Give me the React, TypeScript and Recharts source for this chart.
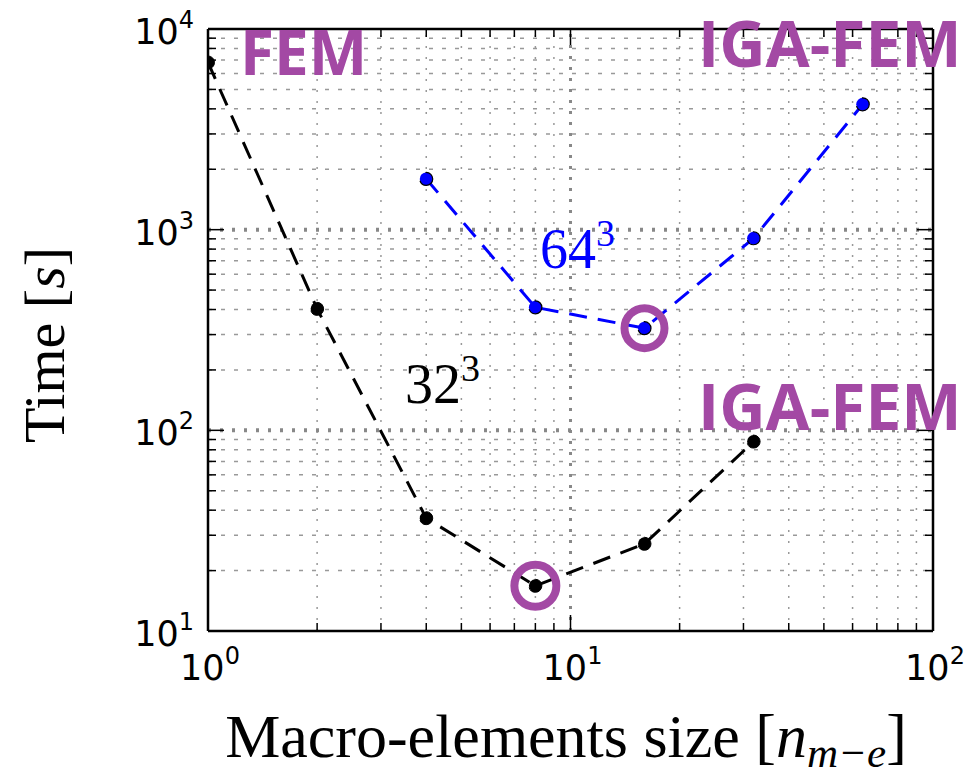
import React from 'react';
import { LineChart, Line, XAxis, YAxis, ReferenceLine, ReferenceDot } from 'recharts';

const sizes32 = [1, 2, 4, 8, 16, 32];
const time32 = [6810, 403, 36.5, 16.8, 27.2, 87.9];
const sizes64 = [4, 8, 16, 32, 64];
const time64 = [1790, 410, 323, 906, 4215];

const xMajor = [1, 10, 100];
const yMajor = [10, 100, 1000, 10000];
const xMinor = [2, 3, 4, 5, 6, 7, 8, 9, 20, 30, 40, 50, 60, 70, 80, 90];
const yMinor = [
  20, 30, 40, 50, 60, 70, 80, 90,
  200, 300, 400, 500, 600, 700, 800, 900,
  2000, 3000, 4000, 5000, 6000, 7000, 8000, 9000,
];
// best points, circled in the figure
const best = [
  { x: 16, y: 323, r: 20 },
  { x: 8, y: 16.8, r: 21 },
];

const data32 = sizes32.map((x, i) => ({ x, t: time32[i] }));
const data64 = sizes64.map((x, i) => ({ x, t: time64[i] }));

const PURPLE = '#a349a4';
const exp = (v: number) => Math.round(Math.log10(v));

const XTick = (props: any) => {
  const { x, y, payload, side } = props;
  const v = payload.value;
  const major = xMajor.includes(v);
  const len = major ? 16 : 8;
  const dir = side === 'bottom' ? -1 : 1;
  return (
    <g>
      <line x1={x} x2={x} y1={y} y2={y + dir * len} stroke="#000" strokeWidth={1.5} />
      {side === 'bottom' && major && (
        <text x={x + 2} y={y + 49} textAnchor="middle" fontFamily="DejaVu Sans" fontSize={35} fill="#000">
          10<tspan dy={-16} fontSize={24}>{exp(v)}</tspan>
        </text>
      )}
    </g>
  );
};

const YTick = (props: any) => {
  const { x, y, payload, side } = props;
  const v = payload.value;
  const major = yMajor.includes(v);
  const len = major ? 16 : 8;
  const dir = side === 'left' ? 1 : -1;
  return (
    <g>
      <line x1={x} x2={x + dir * len} y1={y} y2={y} stroke="#000" strokeWidth={1.5} />
      {side === 'left' && major && (
        <text x={x - 14} y={y + 15} textAnchor="end" fontFamily="DejaVu Sans" fontSize={35} fill="#000">
          10<tspan dy={-16} fontSize={24}>{exp(v)}</tspan>
        </text>
      )}
    </g>
  );
};

const axisLine = { stroke: '#000', strokeWidth: 2.5 };

const App = () => {
  return (
    <div style={{ position: 'absolute', left: 0, top: 0, width: 971, height: 777, background: '#fff' }}>
      <LineChart width={971} height={777} margin={{ top: 19, right: 28, bottom: 86, left: 0 }}>
        <XAxis
          xAxisId="b"
          dataKey="x"
          type="number"
          scale="log"
          domain={[1, 100]}
          allowDataOverflow
          ticks={[...xMajor, ...xMinor]}
          interval={0}
          height={60}
          tickSize={0}
          tickMargin={0}
          tickLine={false}
          axisLine={axisLine}
          tick={(p: any) => <XTick {...p} side="bottom" />}
        />
        <XAxis
          xAxisId="t"
          orientation="top"
          dataKey="x"
          type="number"
          scale="log"
          domain={[1, 100]}
          allowDataOverflow
          ticks={[...xMajor, ...xMinor]}
          interval={0}
          height={10}
          tickSize={0}
          tickMargin={0}
          tickLine={false}
          axisLine={axisLine}
          tick={(p: any) => <XTick {...p} side="top" />}
        />
        <YAxis
          yAxisId="l"
          type="number"
          scale="log"
          domain={[10, 10000]}
          allowDataOverflow
          ticks={[...yMajor, ...yMinor]}
          interval={0}
          width={208}
          tickSize={0}
          tickMargin={0}
          tickLine={false}
          axisLine={axisLine}
          tick={(p: any) => <YTick {...p} side="left" />}
        />
        <YAxis
          yAxisId="r"
          orientation="right"
          type="number"
          scale="log"
          domain={[10, 10000]}
          allowDataOverflow
          ticks={[...yMajor, ...yMinor]}
          interval={0}
          width={10}
          tickSize={0}
          tickMargin={0}
          tickLine={false}
          axisLine={axisLine}
          tick={(p: any) => <YTick {...p} side="right" />}
        />

        {xMinor.map((v) => (
          <ReferenceLine key={'xm' + v} xAxisId="b" yAxisId="l" x={v} stroke="#999" strokeWidth={1.5} strokeDasharray="2 9" />
        ))}
        {yMinor.map((v) => (
          <ReferenceLine key={'ym' + v} xAxisId="b" yAxisId="l" y={v} stroke="#999" strokeWidth={1.5} strokeDasharray="4 9" />
        ))}
        <ReferenceLine xAxisId="b" yAxisId="l" x={10} stroke="#888" strokeWidth={3} strokeDasharray="3 8" />
        <ReferenceLine xAxisId="b" yAxisId="l" y={100} stroke="#888" strokeWidth={4} strokeDasharray="3 9" />
        <ReferenceLine xAxisId="b" yAxisId="l" y={1000} stroke="#888" strokeWidth={4} strokeDasharray="3 9" />

        <Line
          xAxisId="b"
          yAxisId="l"
          data={data32}
          dataKey="t"
          stroke="#000"
          strokeWidth={3}
          strokeDasharray="18 11"
          dot={{ r: 6.5, fill: '#000', stroke: '#000', strokeWidth: 1 }}
          isAnimationActive={false}
        />
        <Line
          xAxisId="b"
          yAxisId="l"
          data={data64}
          dataKey="t"
          stroke="#0000ff"
          strokeWidth={3}
          strokeDasharray="18 11"
          dot={{ r: 6.5, fill: '#0000ff', stroke: '#000', strokeWidth: 1.2 }}
          isAnimationActive={false}
        />
        {best.map((b, i) => (
          <ReferenceDot
            key={'best' + i}
            xAxisId="b"
            yAxisId="l"
            x={b.x}
            y={b.y}
            r={b.r}
            fill="none"
            stroke={PURPLE}
            strokeWidth={8}
          />
        ))}
      </LineChart>

      <svg
        width={971}
        height={777}
        style={{ position: 'absolute', left: 0, top: 0, pointerEvents: 'none' }}
      >
        <text
          transform="translate(64, 345) rotate(-90)"
          textAnchor="middle"
          fontFamily="Liberation Serif"
          fontSize={58}
          fill="#000"
        >
          Time [<tspan fontStyle="italic">s</tspan>]
        </text>
        <text x={566} y={757} textAnchor="middle" fontFamily="Liberation Serif" fontSize={62} fill="#000">
          Macro-elements size [<tspan fontStyle="italic">n</tspan>
          <tspan fontStyle="italic" fontSize={43} dy={10}>m−e</tspan>
          <tspan dy={-10}>]</tspan>
        </text>
        <text x={540} y={268} fontFamily="Liberation Serif" fontSize={56} fill="#0000ff">
          64<tspan dy={-22} fontSize={38}>3</tspan>
        </text>
        <text x={405} y={403} fontFamily="Liberation Serif" fontSize={56} fill="#000">
          32<tspan dy={-22} fontSize={38}>3</tspan>
        </text>
        <text x={240} y={75} fontFamily="Open Sans" fontWeight="bold" fontSize={62} fill={PURPLE}>
          FEM
        </text>
        <text x={698} y={67} fontFamily="Open Sans" fontWeight="bold" fontSize={64} fill={PURPLE}>
          IGA-FEM
        </text>
        <text x={698} y={430} fontFamily="Open Sans" fontWeight="bold" fontSize={64} fill={PURPLE}>
          IGA-FEM
        </text>
      </svg>
    </div>
  );
};

export default App;
